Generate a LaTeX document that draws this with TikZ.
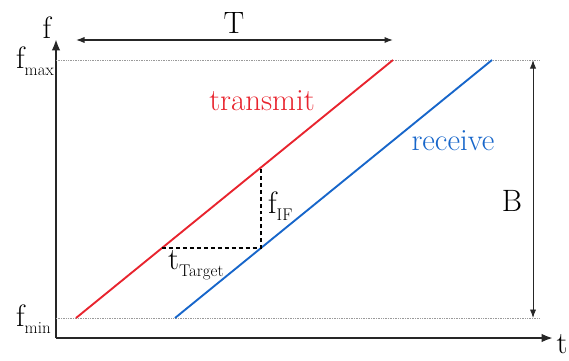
\documentclass[tikz,border=0pt]{standalone}
\usepackage{fontspec}
\usepackage{tikz}
\usetikzlibrary{arrows.meta, positioning, calc}
\definecolor{chirpred}{HTML}{E8242E}
\definecolor{chirpblue}{HTML}{1766CA}
\definecolor{axisdark}{HTML}{262626}
\definecolor{guidegray}{HTML}{9A9A9A}
\newcommand{\lowsub}[1]{\raisebox{-7bp}{\fontsize{17}{18}\selectfont #1}}
\tikzset{
  lbl/.style={font=\fontsize{31}{34}\selectfont, inner sep=0pt},
  axis/.style={-{Latex[length=4mm, width=3mm]}, line width=2.1pt, color=axisdark},
  span/.style={{Latex[length=3mm, width=2.2mm]}-{Latex[length=3mm, width=2.2mm]}, color=axisdark},
  guide/.style={densely dotted, line width=0.7pt, color=guidegray},
  chirp/.style={line width=1.9pt, color=#1},
  delay/.style={dashed, dash pattern=on 4pt off 3pt, line width=1.8pt, color=black},
}
\begin{document}
\begin{tikzpicture}[x=1bp, y=1bp]
  \useasboundingbox (0,0) rectangle (569,360);
  % axes
  \coordinate (O) at (56,22);
  \coordinate (ytop) at (56,321);
  \coordinate (xend) at (553,22);
  \draw[axis] (O) -- (ytop);
  \draw[axis] (O) -- (xend);
  \node[lbl, anchor=base] (flbl) at (47,322) {f};
  \node[lbl, anchor=base] (tlbl) at (562,7) {t};
  % band limits
  \foreach \y/\s in {300/max, 42/min} {
    \coordinate (g\s) at (56,\y);
    \coordinate (h\s) at (540,\y);
    \draw[guide] (g\s) -- (h\s);
    \node[lbl, anchor=base west] (f\s) at (16,\y-8) {f\lowsub{\s}};
  }
  % chirps
  \coordinate (tx0) at (76,42);   \coordinate (tx1) at (393,300);
  \coordinate (rx0) at (175,42);  \coordinate (rx1) at (492,300);
  \draw[chirp=chirpred] (tx0) -- (tx1);
  \draw[chirp=chirpblue] (rx0) -- (rx1);
  \node[lbl, text=chirpred, anchor=base] (txlbl) at (262,250) {transmit};
  \node[lbl, text=chirpblue, anchor=base] (rxlbl) at (453,210) {receive};
  % sweep time and bandwidth
  \coordinate (T0) at (76,320);  \coordinate (T1) at (393,320);
  \draw[span, line width=1.2pt] (T0) -- (T1);
  \node[lbl, anchor=base] (Tlbl) at (234,327) {T};
  \coordinate (B0) at (533,300); \coordinate (B1) at (533,42);
  \draw[span, line width=0.9pt] (B0) -- (B1);
  \node[lbl, anchor=base] (Blbl) at (512,149) {B};
  % delay and beat frequency
  \coordinate (d0) at (162,112);
  \coordinate (d1) at (261,112);
  \coordinate (d2) at (261,192.6);
  \draw[delay] (d0) -- (d1) -- (d2);
  \node[lbl, anchor=base west] (fif) at (268,147) {f\lowsub{IF}};
  \node[lbl, anchor=base west] (ttg) at (168,91) {t\lowsub{Target}};
\end{tikzpicture}
\end{document}
